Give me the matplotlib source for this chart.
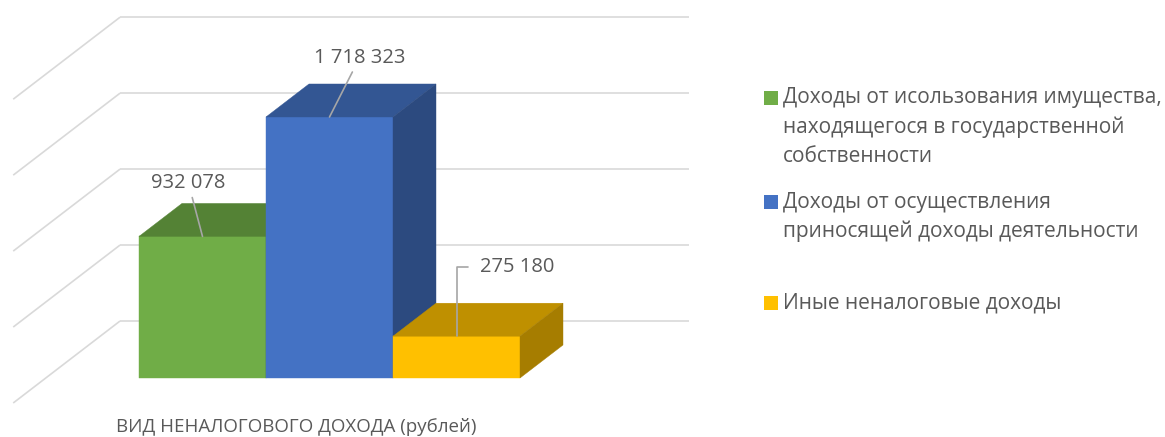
import numpy as np
import matplotlib
matplotlib.use('Agg')
import matplotlib.pyplot as plt
from matplotlib.patches import Polygon
from matplotlib.colors import to_rgb

# data
categories = ['Доходы от исользования имущества,\nнаходящегося в государственной\nсобственности',
              'Доходы от осуществления\nприносящей доходы деятельности',
              'Иные неналоговые доходы']
values = [932078, 1718323, 275180]
value_labels = ['932 078', '1 718 323', '275 180']
grid_values = [0, 500000, 1000000, 1500000, 2000000]
axis_title = 'ВИД НЕНАЛОГОВОГО ДОХОДА (рублей)'

colors = ['#70AD47', '#4472C4', '#FFC000']
grid_color = '#D9D9D9'
text_color = '#595959'

plt.rcParams['font.family'] = ['Open Sans', 'DejaVu Sans']
fs = 14.5

W, H = 1165, 437
fig = plt.figure(figsize=(W / 100, H / 100), dpi=100)

# pixel layout of the fake 3d scene
px_cat = 127.0          # px per category
px_val = 151.9e-6       # px per rouble
x0_px, base_px = 139, 378
ax_w = 700
ax = fig.add_axes([0, 0, ax_w / W, 1])
ax.set_xlim(-x0_px / px_cat, (ax_w - x0_px) / px_cat)
ax.set_ylim((base_px - H) / px_val, base_px / px_val)
ax.axis('off')

# oblique depth offset (one bar depth)
DX = 43 / px_cat
DY = 33 / px_val
d_back, d_front = 57 / 33, -25 / 33
wall_left, wall_right = -0.734, 3.746


def proj(x, v, d):
    return x + d * DX, v + d * DY


def shade(c, f):
    return tuple(f * k for k in to_rgb(c))


# back wall and side wall grid lines
for g in grid_values:
    xa, ya = proj(wall_left, g, d_back)
    xb, yb = proj(wall_right, g, d_back)
    ax.plot([xa, xb], [ya, yb], color=grid_color, lw=1.2, zorder=1,
            solid_capstyle='butt', clip_on=False)
    xc, yc = proj(wall_left, g, d_front)
    ax.plot([xa, xc], [ya, yc], color=grid_color, lw=1.2, zorder=1,
            solid_capstyle='butt', clip_on=False)

# bars: front faces with ax.bar, top and side from the same values
xs = np.arange(len(values))
bars = ax.bar(xs, values, width=1.0, align='edge', color=colors, lw=0)
for i, (b, v, c) in enumerate(zip(bars, values, colors)):
    b.set_zorder(3 + i)
    b.set_edgecolor(c)
    b.set_linewidth(0.3)
    top = [proj(i, v, 0), proj(i + 1, v, 0), proj(i + 1, v, 1), proj(i, v, 1)]
    side = [proj(i + 1, 0, 0), proj(i + 1, v, 0), proj(i + 1, v, 1), proj(i + 1, 0, 1)]
    ax.add_patch(Polygon(top, closed=True, fc=shade(c, 0.75), ec=shade(c, 0.75),
                         lw=0.3, zorder=3 + i))
    ax.add_patch(Polygon(side, closed=True, fc=shade(c, 0.65), ec=shade(c, 0.65),
                         lw=0.3, zorder=3 + i))

# data labels with leader lines
offsets = [(-14, 53), (30, 59), (23, 69)]
for i, (v, lab, off) in enumerate(zip(values, value_labels, offsets)):
    if i == 2:
        ap = dict(arrowstyle='-', color='#A6A6A6', lw=1.2, shrinkA=6, shrinkB=0,
                  relpos=(0, 0.5), connectionstyle='angle,angleA=0,angleB=90,rad=0')
        ha = 'left'
    else:
        ap = dict(arrowstyle='-', color='#A6A6A6', lw=1.2, shrinkA=1, shrinkB=0)
        ha = 'center'
    ax.annotate(lab, xy=(i + 0.5, v), xytext=off, textcoords='offset pixels',
                ha=ha, va='center', fontsize=fs, color=text_color,
                arrowprops=ap, zorder=10, annotation_clip=False)

# category axis title
fig.text(296 / W, 1 - 427 / H, axis_title, ha='center', va='center',
         fontsize=13.5, color=text_color)

# legend
leg_y = [98, 202, 303]
for lab, c, y in zip(categories, colors, leg_y):
    fig.patches.append(plt.Rectangle((764 / W, 1 - (y + 7) / H), 14 / W, 14 / H,
                                     transform=fig.transFigure, fc=c, ec='none'))
    for k, line in enumerate(lab.split('\n')):
        fig.text(783 / W, 1 - (y + 29 * k) / H, line, ha='left', va='center',
                 fontsize=15, color=text_color)

fig.savefig('out.png', dpi=100)
